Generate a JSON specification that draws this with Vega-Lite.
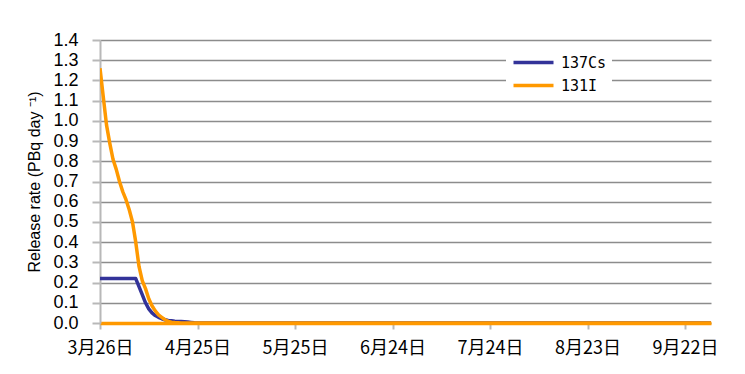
{
  "$schema": "https://vega.github.io/schema/vega-lite/v6.json",
  "width": 611,
  "height": 283,
  "autosize": "none",
  "padding": {"left": 100, "top": 40, "right": 34, "bottom": 51},
  "background": "white",
  "config": {"view": {"stroke": null}},
  "data": {"values": [
    {"date": "2011-03-26", "nuclide": "137Cs", "rate": 0.22},
    {"date": "2011-03-27", "nuclide": "137Cs", "rate": 0.22},
    {"date": "2011-03-28", "nuclide": "137Cs", "rate": 0.22},
    {"date": "2011-03-29", "nuclide": "137Cs", "rate": 0.22},
    {"date": "2011-03-30", "nuclide": "137Cs", "rate": 0.22},
    {"date": "2011-03-31", "nuclide": "137Cs", "rate": 0.22},
    {"date": "2011-04-01", "nuclide": "137Cs", "rate": 0.22},
    {"date": "2011-04-02", "nuclide": "137Cs", "rate": 0.22},
    {"date": "2011-04-03", "nuclide": "137Cs", "rate": 0.22},
    {"date": "2011-04-04", "nuclide": "137Cs", "rate": 0.22},
    {"date": "2011-04-05", "nuclide": "137Cs", "rate": 0.22},
    {"date": "2011-04-06", "nuclide": "137Cs", "rate": 0.22},
    {"date": "2011-04-07", "nuclide": "137Cs", "rate": 0.18},
    {"date": "2011-04-08", "nuclide": "137Cs", "rate": 0.14},
    {"date": "2011-04-09", "nuclide": "137Cs", "rate": 0.10},
    {"date": "2011-04-10", "nuclide": "137Cs", "rate": 0.07},
    {"date": "2011-04-11", "nuclide": "137Cs", "rate": 0.05},
    {"date": "2011-04-12", "nuclide": "137Cs", "rate": 0.037},
    {"date": "2011-04-13", "nuclide": "137Cs", "rate": 0.028},
    {"date": "2011-04-14", "nuclide": "137Cs", "rate": 0.021},
    {"date": "2011-04-15", "nuclide": "137Cs", "rate": 0.016},
    {"date": "2011-04-16", "nuclide": "137Cs", "rate": 0.013},
    {"date": "2011-04-17", "nuclide": "137Cs", "rate": 0.011},
    {"date": "2011-04-18", "nuclide": "137Cs", "rate": 0.009},
    {"date": "2011-04-19", "nuclide": "137Cs", "rate": 0.008},
    {"date": "2011-04-20", "nuclide": "137Cs", "rate": 0.007},
    {"date": "2011-04-21", "nuclide": "137Cs", "rate": 0.006},
    {"date": "2011-04-22", "nuclide": "137Cs", "rate": 0.005},
    {"date": "2011-04-23", "nuclide": "137Cs", "rate": 0.003},
    {"date": "2011-04-24", "nuclide": "137Cs", "rate": 0.001},
    {"date": "2011-04-25", "nuclide": "137Cs", "rate": 0},
    {"date": "2011-09-30", "nuclide": "137Cs", "rate": 0},
    {"date": "2011-03-26", "nuclide": "131I", "rate": 1.26},
    {"date": "2011-03-27", "nuclide": "131I", "rate": 1.12},
    {"date": "2011-03-28", "nuclide": "131I", "rate": 0.98},
    {"date": "2011-03-29", "nuclide": "131I", "rate": 0.89},
    {"date": "2011-03-30", "nuclide": "131I", "rate": 0.81},
    {"date": "2011-03-31", "nuclide": "131I", "rate": 0.76},
    {"date": "2011-04-01", "nuclide": "131I", "rate": 0.70},
    {"date": "2011-04-02", "nuclide": "131I", "rate": 0.65},
    {"date": "2011-04-03", "nuclide": "131I", "rate": 0.61},
    {"date": "2011-04-04", "nuclide": "131I", "rate": 0.56},
    {"date": "2011-04-05", "nuclide": "131I", "rate": 0.50},
    {"date": "2011-04-06", "nuclide": "131I", "rate": 0.40},
    {"date": "2011-04-07", "nuclide": "131I", "rate": 0.28},
    {"date": "2011-04-08", "nuclide": "131I", "rate": 0.21},
    {"date": "2011-04-09", "nuclide": "131I", "rate": 0.17},
    {"date": "2011-04-10", "nuclide": "131I", "rate": 0.12},
    {"date": "2011-04-11", "nuclide": "131I", "rate": 0.085},
    {"date": "2011-04-12", "nuclide": "131I", "rate": 0.06},
    {"date": "2011-04-13", "nuclide": "131I", "rate": 0.04},
    {"date": "2011-04-14", "nuclide": "131I", "rate": 0.028},
    {"date": "2011-04-15", "nuclide": "131I", "rate": 0.016},
    {"date": "2011-04-16", "nuclide": "131I", "rate": 0.008},
    {"date": "2011-04-17", "nuclide": "131I", "rate": 0.004},
    {"date": "2011-04-18", "nuclide": "131I", "rate": 0.002},
    {"date": "2011-04-19", "nuclide": "131I", "rate": 0.001},
    {"date": "2011-04-20", "nuclide": "131I", "rate": 0},
    {"date": "2011-09-30", "nuclide": "131I", "rate": 0}
  ]},
  "mark": {"type": "line", "strokeWidth": 3.5, "strokeJoin": "round", "clip": true},
  "encoding": {
    "x": {
      "field": "date", "type": "temporal",
      "scale": {"type": "utc", "domain": [{"year": 2011, "month": 3, "date": 26, "utc": true}, {"year": 2011, "month": 9, "date": 30, "utc": true}]},
      "axis": {
        "title": null,
        "values": [
          {"year": 2011, "month": 3, "date": 26, "utc": true},
          {"year": 2011, "month": 4, "date": 25, "utc": true},
          {"year": 2011, "month": 5, "date": 25, "utc": true},
          {"year": 2011, "month": 6, "date": 24, "utc": true},
          {"year": 2011, "month": 7, "date": 24, "utc": true},
          {"year": 2011, "month": 8, "date": 23, "utc": true},
          {"year": 2011, "month": 9, "date": 22, "utc": true}
        ],
        "format": "%-m月%-d日",
        "grid": false,
        "domainColor": "#FF9900",
        "domainWidth": 3.5,
        "tickColor": "#b8b8b8",
        "tickWidth": 2,
        "tickSize": 6,
        "labelFont": "Noto Sans CJK JP",
        "labelFontSize": 18,
        "labelColor": "#000000",
        "labelPadding": 10,
        "labelFlush": false,
        "labelOverlap": false
      }
    },
    "y": {
      "field": "rate", "type": "quantitative",
      "scale": {"domain": [0, 1.4], "nice": false},
      "axis": {
        "title": "Release rate (PBq day ⁻¹)",
        "titleFont": "Liberation Sans",
        "titleFontSize": 16,
        "titleFontWeight": "normal",
        "titleColor": "#000000",
        "titlePadding": 10,
        "values": [0, 0.1, 0.2, 0.3, 0.4, 0.5, 0.6, 0.7, 0.8, 0.9, 1.0, 1.1, 1.2, 1.3, 1.4],
        "format": ".1f",
        "labelFont": "Liberation Sans",
        "labelFontSize": 18,
        "labelColor": "#000000",
        "labelPadding": 14,
        "labelFlush": false,
        "labelOverlap": false,
        "domainColor": "#b8b8b8",
        "domainWidth": 2,
        "tickColor": "#b8b8b8",
        "tickWidth": 2,
        "tickSize": 8,
        "gridColor": "#8c8c8c",
        "gridWidth": 1.5,
        "gridOpacity": 1
      }
    },
    "color": {
      "field": "nuclide", "type": "nominal",
      "scale": {"domain": ["137Cs", "131I"], "range": ["#333399", "#FF9900"]},
      "legend": {
        "title": null,
        "orient": "none",
        "legendX": 406,
        "legendY": 10,
        "fillColor": "white",
        "padding": 5,
        "symbolType": "M-4,0L4,0",
        "symbolSize": 100,
        "symbolStrokeWidth": 3.5,
        "symbolOffset": 15,
        "labelFont": "DejaVu Sans Mono",
        "labelFontSize": 15,
        "labelColor": "#000000",
        "rowPadding": 7,
        "labelOffset": 20
      }
    }
  }
}
